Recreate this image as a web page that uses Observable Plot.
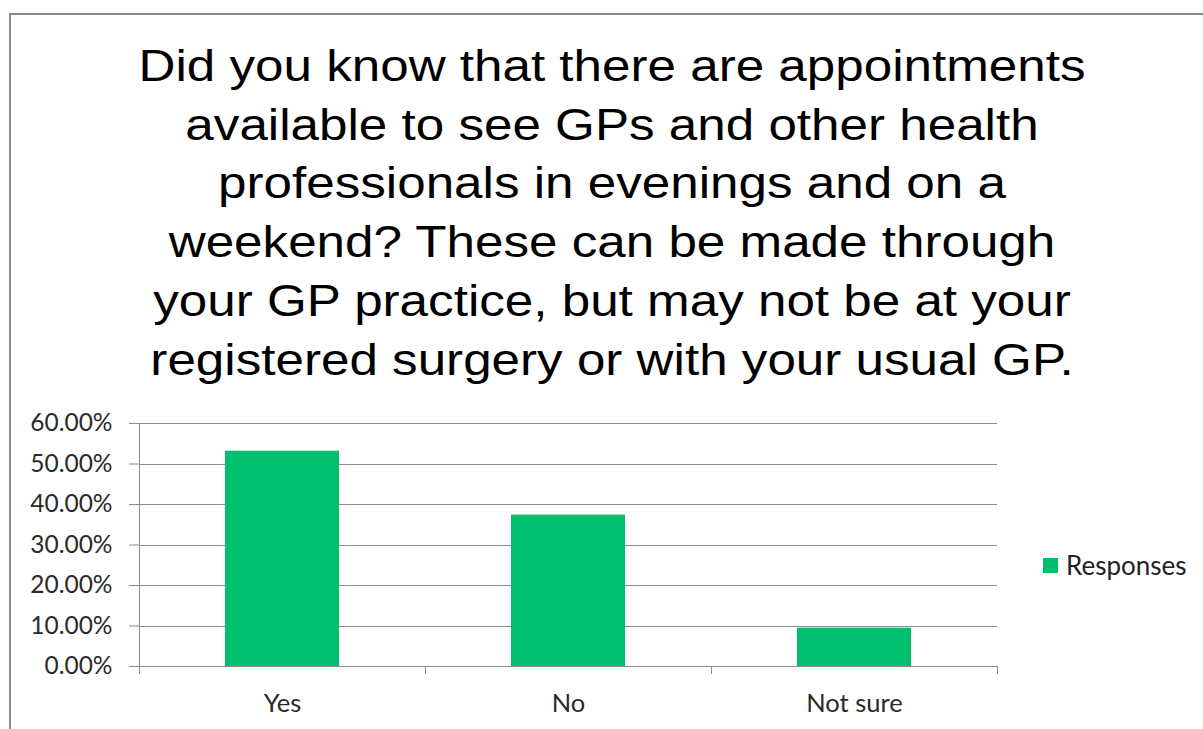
<!DOCTYPE html>
<html>
<head>
<meta charset="utf-8">
<script src="https://cdn.jsdelivr.net/npm/d3@7"></script>
<script src="https://cdn.jsdelivr.net/npm/@observablehq/plot@0.6"></script>
<style>
  html, body { margin: 0; padding: 0; background: #fff; }
  #root { position: relative; width: 1203px; height: 729px; overflow: hidden; background: #fff; }
  #frame { position: absolute; left: 9px; top: 13px; width: 1300px; height: 800px; border-left: 2px solid #8a8a8a; border-top: 2px solid #8a8a8a; box-sizing: border-box; }
  #title { position: absolute; left: 0; top: 37px; width: 1224px; text-align: center; font-family: "Liberation Sans", Arial, sans-serif; font-size: 45px; line-height: 58.7px; color: #000; transform: scaleX(1.137); transform-origin: 612px 0; }
  #chart { position: absolute; left: 0; top: 400px; }
  #legend { position: absolute; left: 1043px; top: 551px; font-family: Lato, "Open Sans", sans-serif; font-size: 26px; color: #222; display: flex; align-items: center; line-height: 28px; }
  #legend .sw { width: 15px; height: 15px; margin-right: 8px; }
</style>
</head>
<body>
<div id="root">
  <div id="frame"></div>
  <div id="title"></div>
  <div id="chart"></div>
  <div id="legend"></div>
</div>
<script>
const titleLines = [
  "Did you know that there are appointments",
  "available to see GPs and other health",
  "professionals in evenings and on a",
  "weekend? These can be made through",
  "your GP practice, but may not be at your",
  "registered surgery or with your usual GP."
];
const categories = ["Yes", "No", "Not sure"];
const responses = [0.5316, 0.3738, 0.0946];
const yTicks = [0, 0.1, 0.2, 0.3, 0.4, 0.5, 0.6];
const seriesName = "Responses";

const barColor = "#00BF6F";
const gridColor = "#8c8c8c";
const textColor = "#2a2a2a";

const data = categories.map((c, i) => ({category: c, value: responses[i]}));

document.getElementById("title").innerHTML = titleLines.map(l => `<div>${l}</div>`).join("");

// axis line and category boundary ticks, positioned by the band scale
function categoryFrame(index, scales, values, dimensions) {
  const x = scales.x, y = scales.y;
  const bw = typeof x.bandwidth === "function" ? x.bandwidth() : x.bandwidth;
  const dom = typeof x.domain === "function" ? x.domain() : categories;
  const step = dom.length > 1 ? x(dom[1]) - x(dom[0]) : bw;
  const gap = (step - bw) / 2;
  const bounds = dom.map(d => x(d) - gap).concat([x(dom[dom.length - 1]) + bw + gap]);
  const y0 = y(0), yTop = y(yTicks[yTicks.length - 1]);
  const g = d3.create("svg:g").attr("stroke", gridColor).attr("stroke-width", 1).attr("shape-rendering", "crispEdges");
  g.append("line").attr("x1", bounds[0]).attr("x2", bounds[0]).attr("y1", yTop).attr("y2", y0 + 8);
  for (const b of bounds.slice(1)) {
    g.append("line").attr("x1", b).attr("x2", b).attr("y1", y0).attr("y2", y0 + 8);
  }
  return g.node();
}

const chart = Plot.plot({
  width: 1203,
  height: 329,
  marginTop: 23,
  marginBottom: 63,
  marginLeft: 139,
  marginRight: 206,
  style: {fontFamily: "Lato, 'Open Sans', sans-serif", fontSize: "24px", color: textColor, background: "transparent"},
  x: {domain: categories, paddingInner: 0.6, paddingOuter: 0.3, label: null},
  y: {domain: [0, 0.6], label: null},
  marks: [
    Plot.ruleY(yTicks, {stroke: gridColor, strokeWidth: 1, shapeRendering: "crispEdges"}),
    Plot.barY(data, {x: "category", y: "value", fill: barColor}),
    Plot.axisY({ticks: yTicks, tickFormat: d3.format(".2%"), tickSize: 10, tickPadding: 17, stroke: gridColor, fill: textColor, label: null, fontSize: 24.5}),
    Plot.axisX({tickSize: 0, tickPadding: 27, fill: textColor, label: null, fontSize: 25.5}),
    categoryFrame
  ]
});
document.getElementById("chart").appendChild(chart);

document.getElementById("legend").innerHTML = `<div class="sw" style="background:${barColor}"></div><span>${seriesName}</span>`;
</script>
</body>
</html>
